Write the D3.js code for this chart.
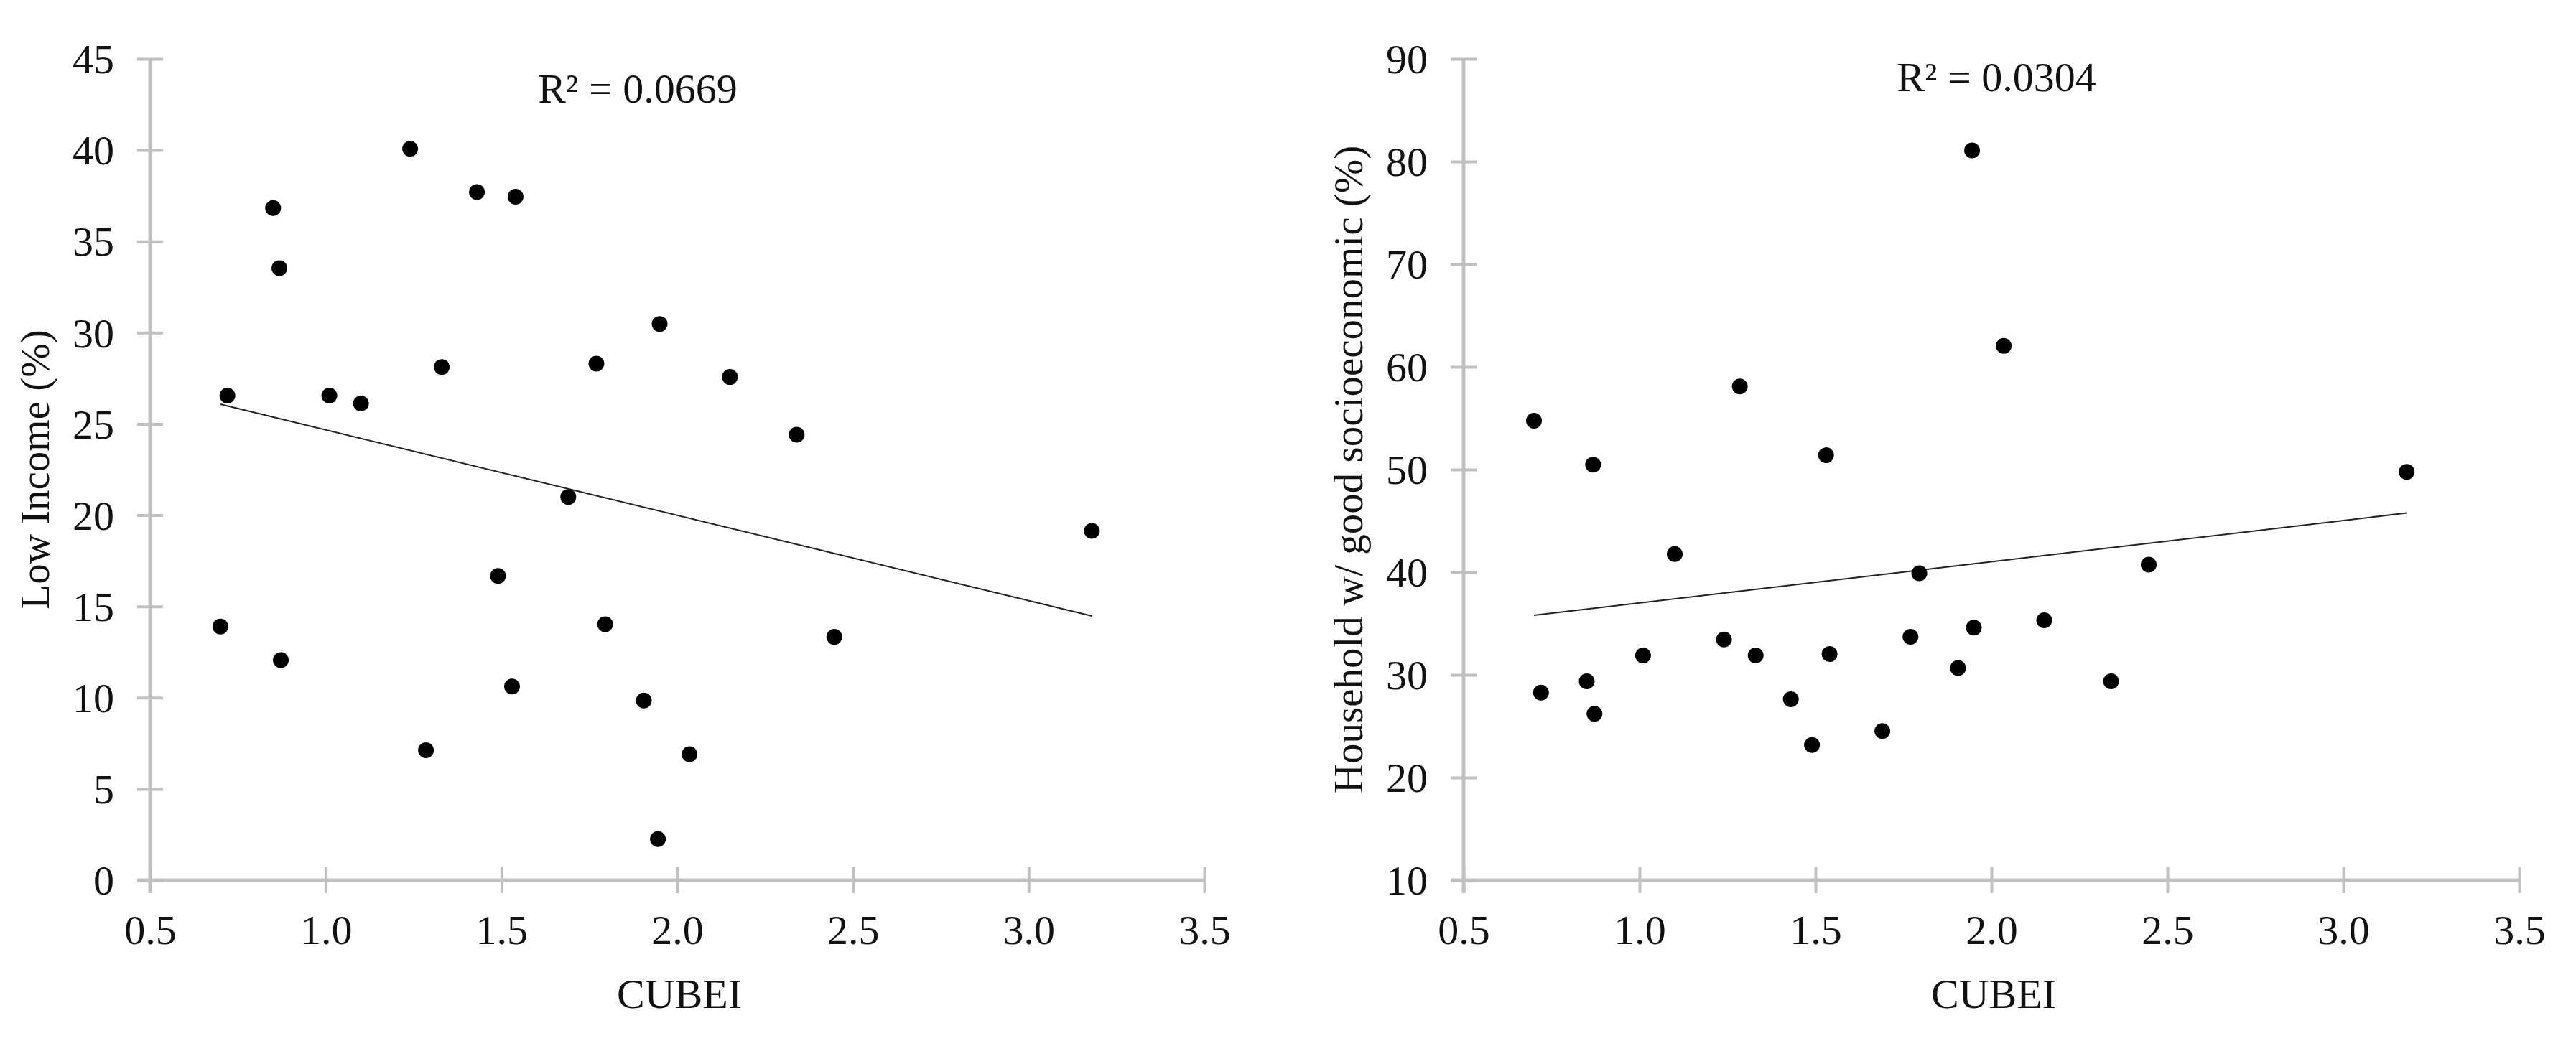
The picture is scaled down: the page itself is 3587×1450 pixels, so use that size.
<!DOCTYPE html>
<html>
<head>
<meta charset="utf-8">
<script src="https://cdn.jsdelivr.net/npm/d3@7"></script>
<style>
  body { margin: 0; background: #fff; }
  text { font-family: 'Liberation Serif', 'Times New Roman', serif; fill: #111; }
</style>
</head>
<body>
<div class="canvas"></div>
<script>
/* ----------- DATA ----------- */
const cubei = [0.70, 0.72, 0.85, 0.868, 0.872, 1.01, 1.10, 1.24, 1.285, 1.33, 1.43, 1.49, 1.53,
    1.54, 1.69, 1.77, 1.795, 1.905, 1.945, 1.95, 2.035, 2.15, 2.34, 2.447, 3.18];
const lowIncome = [13.9, 26.55, 36.83, 33.53, 12.06, 26.55, 26.12, 40.07, 7.12, 28.12, 37.70, 16.67, 10.61,
    37.45, 21.0, 28.30, 14.02, 9.84, 2.25, 30.48, 6.90, 27.57, 24.41, 13.33, 19.14];
const household = [54.75, 28.27, 29.37, 50.48, 26.21, 31.89, 41.77, 33.44, 58.10, 31.89, 27.63, 23.17, 51.39,
    32.02, 24.53, 33.70, 39.90, 30.66, 81.09, 34.60, 62.04, 35.31, 29.37, 40.73, 49.77];

const cubeiTicks = [0.5, 1.0, 1.5, 2.0, 2.5, 3.0, 3.5];
const lowIncomeTicks = [0, 5, 10, 15, 20, 25, 30, 35, 40, 45];
const householdTicks = [10, 20, 30, 40, 50, 60, 70, 80, 90];

const r2Labels = ['R² = 0.0669', 'R² = 0.0304'];
const yTitles = ['Low Income (%)', 'Household w/ good socioeconomic (%)'];
const xTitle = 'CUBEI';

/* ----------- CONTAINER ----------- */
const W = 3587, H = 1450;
const svg = d3.select('.canvas')
    .append('svg')
    .attr('width', W)
    .attr('height', H);

const graphTop = 82, graphBottom = 1226;
const tick = 18;
const axisColor = '#c0c0c0';

const panels = [
    { left: 209, right: 1677, values: lowIncome, ticks: lowIncomeTicks, title: yTitles[0], r2: r2Labels[0], r2y: 143 },
    { left: 2038, right: 3508, values: household, ticks: householdTicks, title: yTitles[1], r2: r2Labels[1], r2y: 127 }
];

// simple least squares fit for the trend line
const fit = (xs, ys) => {
    const mx = d3.mean(xs), my = d3.mean(ys);
    let num = 0, den = 0;
    xs.forEach((x, i) => { num += (x - mx) * (ys[i] - my); den += (x - mx) * (x - mx); });
    const slope = num / den;
    return x => my + slope * (x - mx);
};

panels.forEach(p => {
    const g = svg.append('g');

    /* ----------- SCALES ----------- */
    const x = d3.scaleLinear()
        .domain(d3.extent(cubeiTicks))
        .range([p.left, p.right]);
    const y = d3.scaleLinear()
        .domain(d3.extent(p.ticks))
        .range([graphBottom, graphTop]);

    /* ----------- AXES ----------- */
    const xAxis = d3.axisBottom(x)
        .tickValues(cubeiTicks)
        .tickFormat(d3.format('.1f'))
        .tickSizeOuter(0)
        .tickPadding(0);
    const yAxis = d3.axisLeft(y)
        .tickValues(p.ticks)
        .tickSizeOuter(0);

    const xAxisGroup = g.append('g')
        .attr('transform', `translate(0,${graphBottom})`)
        .call(xAxis);
    const yAxisGroup = g.append('g')
        .attr('transform', `translate(${p.left},0)`)
        .call(yAxis);

    [xAxisGroup, yAxisGroup].forEach(a => {
        a.select('.domain').remove();
        a.selectAll('.tick line').attr('stroke', axisColor).attr('stroke-width', 4);
        a.selectAll('text').attr('font-size', 58).attr('fill', '#111')
            .attr('font-family', "'Liberation Serif', serif");
    });

    // ticks cross the axis line
    xAxisGroup.selectAll('.tick line').attr('y1', -tick).attr('y2', tick);
    xAxisGroup.selectAll('.tick text').attr('y', 89).attr('dy', 0);
    yAxisGroup.selectAll('.tick line').attr('x1', -tick).attr('x2', tick);
    yAxisGroup.selectAll('.tick text').attr('x', -50).attr('dy', '0.34em');

    // axis lines, running past the corner by one tick length
    g.append('line')
        .attr('x1', x.range()[0] - tick).attr('x2', x.range()[1])
        .attr('y1', graphBottom).attr('y2', graphBottom)
        .attr('stroke', axisColor).attr('stroke-width', 5);
    g.append('line')
        .attr('x1', p.left).attr('x2', p.left)
        .attr('y1', graphBottom + tick).attr('y2', graphTop)
        .attr('stroke', axisColor).attr('stroke-width', 5);

    /* ----------- TREND LINE ----------- */
    const line = fit(cubei, p.values);
    const [x0, x1] = d3.extent(cubei);
    g.append('line')
        .attr('x1', x(x0)).attr('y1', y(line(x0)))
        .attr('x2', x(x1)).attr('y2', y(line(x1)))
        .attr('stroke', '#222')
        .attr('stroke-width', 2);

    /* ----------- POINTS ----------- */
    g.selectAll('circle')
        .data(cubei)
        .enter()
        .append('circle')
        .attr('cx', d => x(d))
        .attr('cy', (d, i) => y(p.values[i]))
        .attr('r', 11)
        .attr('fill', '#000');

    /* ----------- LABELS ----------- */
    const midX = (p.left + p.right) / 2;
    g.append('text')
        .attr('x', midX + 3)
        .attr('y', 1404)
        .attr('text-anchor', 'middle')
        .attr('font-size', 58)
        .text(xTitle);

    g.append('text')
        .attr('transform', `translate(${p.left - 141},${(graphTop + graphBottom) / 2}) rotate(-90)`)
        .attr('text-anchor', 'middle')
        .attr('font-size', 57)
        .text(p.title);

    g.append('text')
        .attr('x', p === panels[0] ? 888 : 2780)
        .attr('y', p.r2y)
        .attr('text-anchor', 'middle')
        .attr('font-size', 58)
        .text(p.r2);
});
</script>
</body>
</html>
